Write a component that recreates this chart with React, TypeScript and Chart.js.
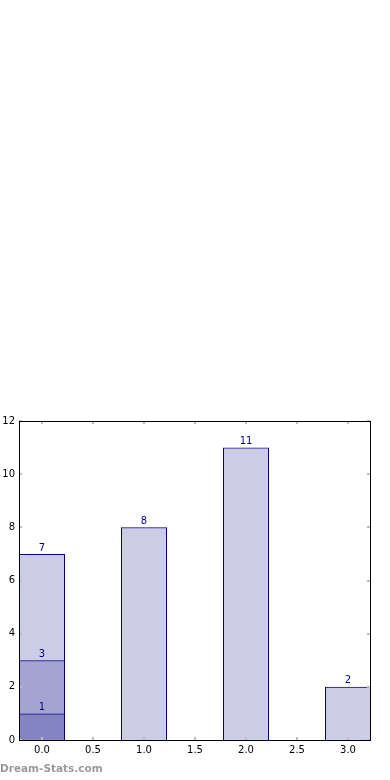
import React, { useEffect, useRef } from "react";
import { Chart, registerables } from "chart.js";

Chart.register(...registerables);

const categories = [0, 1, 2, 3];
const counts = [7, 8, 11, 2];
const overlayMidX = [0];
const overlayMid = [3];
const overlayLowX = [0];
const overlayLow = [1];
const yTicks = [0, 2, 4, 6, 8, 10, 12];
const xMin = -23 / 102;
const xMax = 328 / 102;

const NAVY = "#000080";
const FILL = "rgba(0,0,128,0.2)";

const framePlugin = {
  id: "framePlugin",
  afterDatasetsDraw(chart: any) {
    const { ctx, chartArea: a, scales } = chart;
    ctx.save();
    // inward tick marks
    ctx.fillStyle = "#bdbdbd";
    scales.x.ticks.forEach((t: any) => {
      const px = Math.round(scales.x.getPixelForValue(t.value));
      ctx.fillRect(px - 1, a.top, 2, 3);
      ctx.fillRect(px - 1, a.bottom - 3, 2, 3);
    });
    scales.y.ticks.forEach((t: any) => {
      const py = Math.round(scales.y.getPixelForValue(t.value));
      ctx.fillRect(a.left, py - 1, 3, 2);
      ctx.fillRect(a.right - 3, py - 1, 3, 2);
    });
    // value labels
    ctx.fillStyle = NAVY;
    ctx.font = "10px 'DejaVu Sans'";
    ctx.textAlign = "center";
    ctx.textBaseline = "bottom";
    chart.data.datasets.forEach((ds: any, di: number) => {
      const meta = chart.getDatasetMeta(di);
      meta.data.forEach((el: any, i: number) => {
        const v = ds.data[i].y;
        ctx.fillText(String(v), el.x, el.y - 1);
      });
    });
    // frame
    ctx.strokeStyle = "#000";
    ctx.lineWidth = 1;
    ctx.strokeRect(
      Math.round(a.left) + 0.5,
      Math.round(a.top) + 0.5,
      Math.round(a.right - a.left),
      Math.round(a.bottom - a.top)
    );
    ctx.restore();
  },
};

export default function App() {
  const ref = useRef<HTMLCanvasElement | null>(null);
  useEffect(() => {
    document.body.style.margin = "0";
    const canvas = ref.current;
    if (!canvas) return;
    const toPts = (xs: number[], ys: number[]) => ys.map((y, i) => ({ x: xs[i], y }));
    const common = {
      backgroundColor: FILL,
      borderColor: NAVY,
      borderWidth: 1,
      grouped: false,
      categoryPercentage: 1,
      barPercentage: 46 / 51,
    };
    const chart = new Chart(canvas, {
      type: "bar",
      data: {
        datasets: [
          { ...common, data: toPts(categories, counts) },
          { ...common, data: toPts(overlayMidX, overlayMid) },
          { ...common, data: toPts(overlayLowX, overlayLow) },
        ],
      },
      options: {
        responsive: false,
        animation: false,
        devicePixelRatio: 1,
        layout: { padding: { top: 421, right: 20, left: 0, bottom: 0 } },
        plugins: { legend: { display: false }, tooltip: { enabled: false } },
        scales: {
          x: {
            type: "linear",
            min: xMin,
            max: xMax,
            offset: false,
            grid: { display: false, drawTicks: false, offset: false },
            border: { display: false },
            ticks: {
              stepSize: 0.5,
              includeBounds: false,
              autoSkip: false,
              maxRotation: 0,
              padding: 4,
              color: "#000",
              font: { family: "DejaVu Sans", size: 10 },
              callback: (v: any) => Number(v).toFixed(1),
            },
            afterFit: (s: any) => {
              s.height = 40;
            },
          },
          y: {
            type: "linear",
            min: yTicks[0],
            max: yTicks[yTicks.length - 1],
            grid: { display: false, drawTicks: false },
            border: { display: false },
            ticks: {
              stepSize: 2,
              padding: 4,
              color: "#000",
              font: { family: "DejaVu Sans", size: 10 },
            },
            afterFit: (s: any) => {
              s.width = 19;
            },
          },
        },
      },
      plugins: [framePlugin],
    });
    return () => chart.destroy();
  }, []);
  return (
    <div style={{ position: "absolute", left: 0, top: 0, width: 390, height: 780 }}>
      <canvas ref={ref} width={390} height={780} style={{ display: "block" }} />
      <div
        style={{
          position: "absolute",
          left: 0,
          top: 762,
          fontFamily: "'DejaVu Sans'",
          fontWeight: "bold",
          fontSize: "10.5px",
          color: "#9a9a9a",
          whiteSpace: "nowrap",
        }}
      >
        Dream-Stats.com
      </div>
    </div>
  );
}
